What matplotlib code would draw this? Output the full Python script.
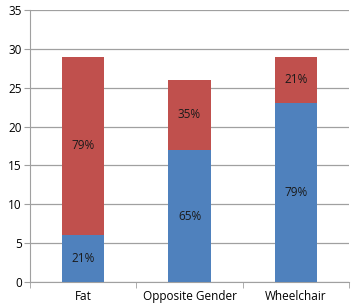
import matplotlib.pyplot as plt
import numpy as np

categories = ["Fat", "Opposite Gender", "Wheelchair"]
blue_vals = [6, 17, 23]
red_vals = [23, 9, 6]
blue_labels = ["21%", "65%", "79%"]
red_labels = ["79%", "35%", "21%"]

plt.rcParams['font.family'] = ['Open Sans', 'DejaVu Sans']

fig = plt.figure(figsize=(3.53, 3.08), dpi=100)
ax = fig.add_axes([0.085, 0.084, 0.904, 0.884])

x = np.arange(len(categories))
blue_c = "#4F81BD"
red_c = "#C0504D"
ax.bar(x, blue_vals, width=0.4, color=blue_c, zorder=3)
ax.bar(x, red_vals, width=0.4, bottom=blue_vals, color=red_c, zorder=3)

for i in range(len(categories)):
    ax.text(x[i], blue_vals[i] / 2, blue_labels[i], ha="center", va="center",
            fontsize=8.5, color="#1a1a1a", zorder=4)
    ax.text(x[i], blue_vals[i] + red_vals[i] / 2, red_labels[i], ha="center",
            va="center", fontsize=8.5, color="#1a1a1a", zorder=4)

ax.set_xlim(-0.5, 2.5)
ax.set_ylim(0, 35)
ax.set_yticks(range(0, 36, 5))
ax.yaxis.grid(True, color="#a0a0a0", linewidth=0.9, zorder=0)

ax.set_xticks(x)
ax.set_xticklabels(categories)
ax.set_xticks([-0.5, 0.5, 1.5, 2.5], minor=True)
ax.tick_params(axis="x", which="major", length=0, pad=6, labelsize=8.5)
ax.tick_params(axis="x", which="minor", length=4, color="#a0a0a0", direction="out")
ax.tick_params(axis="y", length=4, color="#a0a0a0", labelsize=8.5, pad=2)

for s in ["top", "right"]:
    ax.spines[s].set_visible(False)
for s in ["left", "bottom"]:
    ax.spines[s].set_color("#a0a0a0")

fig.savefig("out.png", dpi=100)
